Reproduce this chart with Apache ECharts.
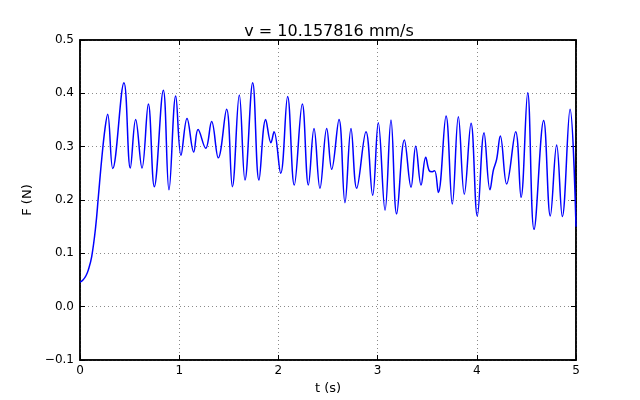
<!DOCTYPE html>
<html>
<head>
<meta charset="utf-8">
<script src="https://cdn.jsdelivr.net/npm/echarts@6/dist/echarts.min.js"></script>
<style>html,body{margin:0;padding:0;background:#fff}#c{width:640px;height:400px}</style>
</head>
<body>
<div id="c"></div>
<script>
var titleText = 'v = 10.157816 mm/s';
var xName = 't (s)';
var yName = 'F (N)';
var tValues = [0, 0.03, 0.06, 0.084, 0.118, 0.158, 0.185, 0.218, 0.252, 0.279, 0.33, 0.443, 0.507, 0.561, 0.625, 0.689, 0.749, 0.84, 0.897, 0.965, 1.018, 1.079, 1.146, 1.19, 1.267, 1.327, 1.394, 1.478, 1.536, 1.606, 1.663, 1.741, 1.804, 1.872, 1.925, 1.956, 2.023, 2.093, 2.16, 2.241, 2.302, 2.359, 2.419, 2.487, 2.537, 2.611, 2.671, 2.732, 2.789, 2.883, 2.95, 3.007, 3.075, 3.135, 3.192, 3.27, 3.337, 3.384, 3.438, 3.485, 3.52, 3.55, 3.575, 3.612, 3.69, 3.753, 3.814, 3.874, 3.942, 4.005, 4.073, 4.133, 4.167, 4.2, 4.237, 4.301, 4.392, 4.446, 4.513, 4.577, 4.674, 4.741, 4.805, 4.862, 4.94, 5.0];
var fValues = [0.046, 0.05, 0.058, 0.069, 0.094, 0.15, 0.206, 0.275, 0.334, 0.361, 0.259, 0.42, 0.26, 0.351, 0.26, 0.38, 0.225, 0.406, 0.219, 0.395, 0.284, 0.353, 0.29, 0.332, 0.297, 0.347, 0.279, 0.37, 0.225, 0.397, 0.2375, 0.42, 0.2375, 0.351, 0.3075, 0.328, 0.25, 0.394, 0.228, 0.38, 0.228, 0.334, 0.222, 0.334, 0.2575, 0.351, 0.195, 0.334, 0.222, 0.328, 0.209, 0.345, 0.181, 0.35, 0.174, 0.3125, 0.224, 0.301, 0.228, 0.28, 0.255, 0.253, 0.255, 0.214, 0.3575, 0.1925, 0.356, 0.211, 0.344, 0.17, 0.326, 0.219, 0.256, 0.276, 0.32, 0.23, 0.328, 0.205, 0.401, 0.145, 0.349, 0.17, 0.303, 0.169, 0.37, 0.15];
var xTicks = [0, 1, 2, 3, 4, 5];
var yTicks = [-0.1, 0.0, 0.1, 0.2, 0.3, 0.4, 0.5];

var seriesData = tValues.map(function (t, i) { return [t, fValues[i]]; });
var font = 'DejaVu Sans';
var chart = echarts.init(document.getElementById('c'), null, {renderer: 'canvas'});
var gridLine = {show: true, lineStyle: {color: '#8a8a8a', type: [1, 3], width: 1}};
var frame = {show: true, onZero: false, lineStyle: {color: '#000', width: 1.5}};
chart.setOption({
  animation: false,
  backgroundColor: '#fff',
  title: {text: titleText, left: 324, top: 19, textAlign: 'center',
    textStyle: {fontFamily: font, fontSize: 16, fontWeight: 'normal', color: '#000'}},
  grid: {left: 80, right: 64, top: 40, bottom: 40, show: true, borderColor: '#000', borderWidth: 1.5, backgroundColor: 'transparent'},
  xAxis: [{
    type: 'value', min: xTicks[0], max: xTicks[xTicks.length - 1], interval: 1,
    name: xName, nameLocation: 'middle', nameGap: 22,
    nameTextStyle: {fontFamily: font, fontSize: 13, color: '#000'},
    axisLine: frame,
    axisTick: {show: true, inside: true, length: 5, lineStyle: {color: '#000'}},
    axisLabel: {fontFamily: font, fontSize: 12, color: '#000', margin: 5},
    splitLine: gridLine
  }, {
    type: 'value', position: 'top', min: xTicks[0], max: xTicks[xTicks.length - 1], interval: 1,
    axisLine: frame,
    axisTick: {show: true, inside: true, length: 5, lineStyle: {color: '#000'}},
    axisLabel: {show: false}, splitLine: {show: false}
  }],
  yAxis: [{
    type: 'value', min: yTicks[0], max: yTicks[yTicks.length - 1], interval: 0.1,
    name: yName, nameLocation: 'middle', nameGap: 43,
    nameTextStyle: {fontFamily: font, fontSize: 13, color: '#000'},
    axisLine: frame,
    axisTick: {show: true, inside: true, length: 5, lineStyle: {color: '#000'}},
    axisLabel: {fontFamily: font, fontSize: 12, color: '#000', margin: 6,
      formatter: function (v) { var s = (Math.round(v * 10) / 10).toFixed(1); return s.replace('-', '\u2212'); }},
    splitLine: gridLine
  }, {
    type: 'value', position: 'right', min: yTicks[0], max: yTicks[yTicks.length - 1], interval: 0.1,
    axisLine: frame,
    axisTick: {show: true, inside: true, length: 5, lineStyle: {color: '#000'}},
    axisLabel: {show: false}, splitLine: {show: false}
  }],
  series: [{
    type: 'line', data: seriesData, showSymbol: false, smooth: 0.4,
    lineStyle: {color: '#0000ff', width: 1.5}, itemStyle: {color: '#0000ff'}
  }]
});
</script>
</body>
</html>
